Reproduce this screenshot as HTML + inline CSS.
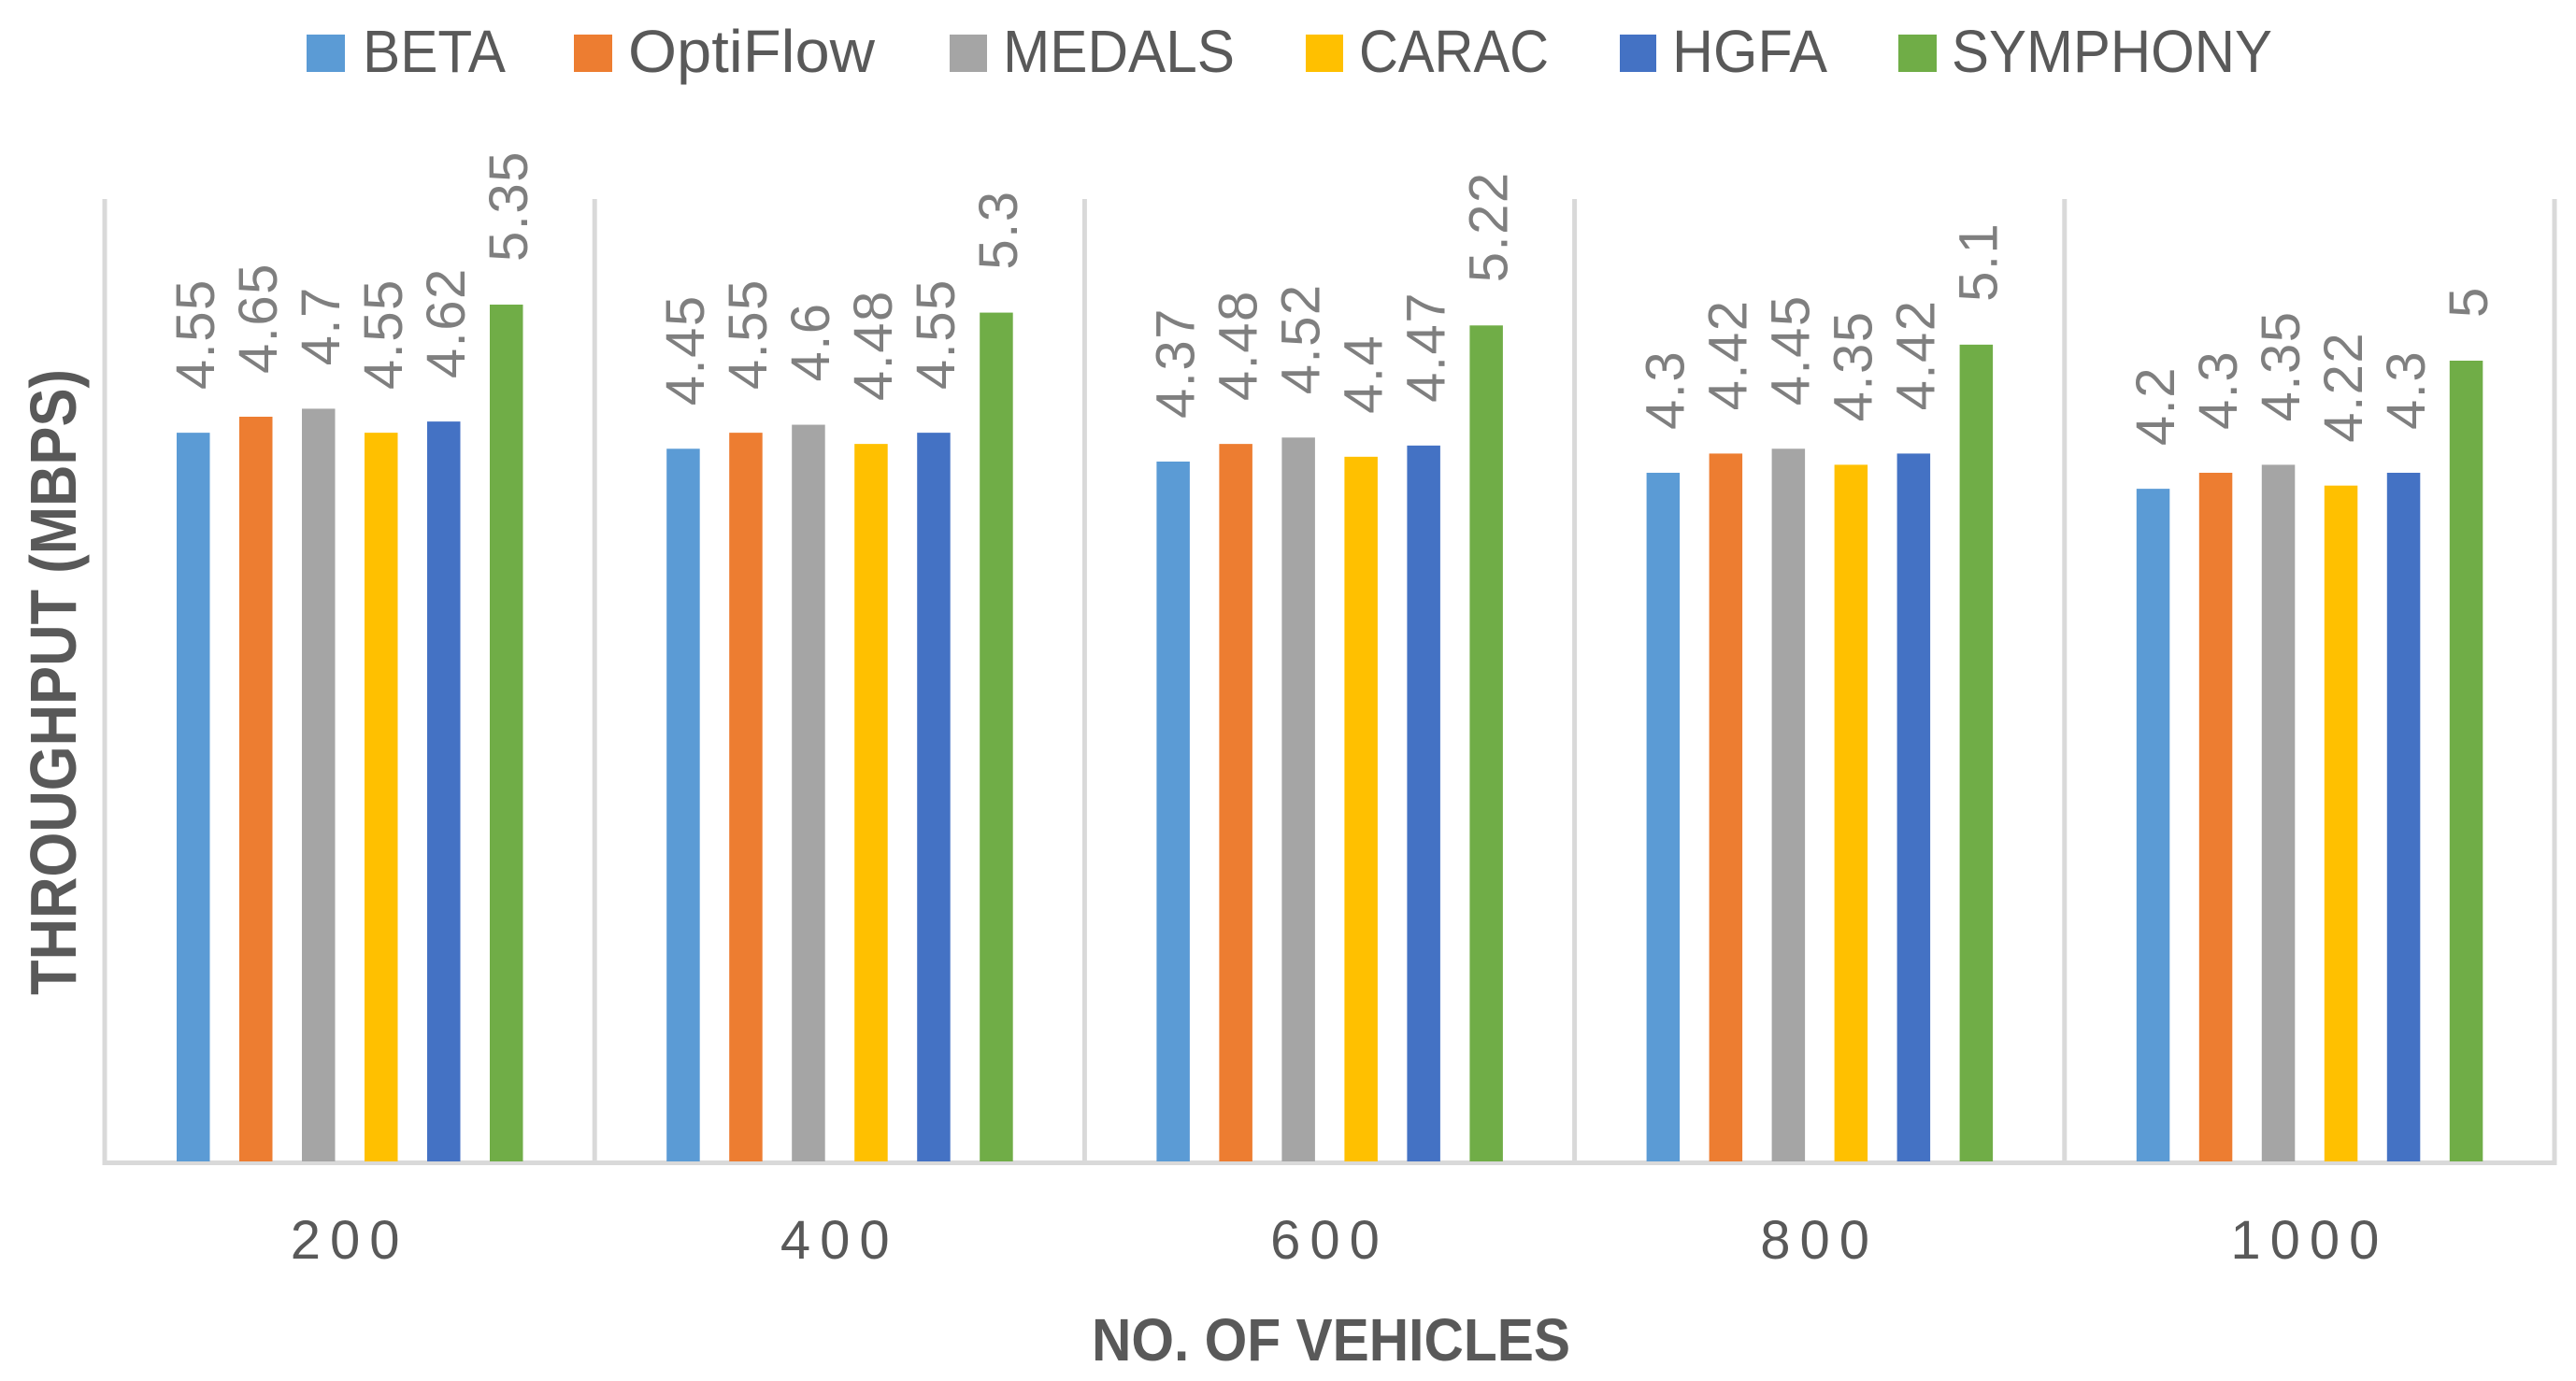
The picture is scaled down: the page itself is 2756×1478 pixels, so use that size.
<!DOCTYPE html>
<html lang="en">
<head>
<meta charset="utf-8">
<title>Throughput vs number of vehicles</title>
<style>
html,body{margin:0;padding:0;background:#fff;}
body{width:2756px;height:1478px;overflow:hidden;}
svg{display:block;font-family:"Liberation Sans",sans-serif;}
</style>
</head>
<body>
<svg id="chart" xmlns="http://www.w3.org/2000/svg" width="2756" height="1478" viewBox="0 0 2756 1478">
  <rect x="0" y="0" width="2756" height="1478" fill="#ffffff"/>
  <g id="legend" font-size="64" fill="#595959">
    <g>
      <rect x="328" y="37" width="41" height="40" fill="#5b9bd5"/>
      <text x="388" y="77" textLength="153" lengthAdjust="spacingAndGlyphs">BETA</text>
    </g>
    <g>
      <rect x="614" y="37" width="41" height="40" fill="#ed7d31"/>
      <text x="672" y="77" textLength="264" lengthAdjust="spacingAndGlyphs">OptiFlow</text>
    </g>
    <g>
      <rect x="1016" y="37" width="40" height="40" fill="#a5a5a5"/>
      <text x="1073" y="77" textLength="248" lengthAdjust="spacingAndGlyphs">MEDALS</text>
    </g>
    <g>
      <rect x="1397" y="37" width="40" height="40" fill="#ffc000"/>
      <text x="1454" y="77" textLength="203" lengthAdjust="spacingAndGlyphs">CARAC</text>
    </g>
    <g>
      <rect x="1733" y="37" width="39" height="40" fill="#4472c4"/>
      <text x="1789" y="77" textLength="166" lengthAdjust="spacingAndGlyphs">HGFA</text>
    </g>
    <g>
      <rect x="2031" y="37" width="41" height="40" fill="#70ad47"/>
      <text x="2088" y="77" textLength="343" lengthAdjust="spacingAndGlyphs">SYMPHONY</text>
    </g>
  </g>
  <g id="axes"></g>
  <g id="bars"></g>
  <g id="labels"></g>
  <g id="ticks"></g>
  <text transform="translate(81 1065) rotate(-90)" font-size="70" font-weight="bold" fill="#595959" textLength="670" lengthAdjust="spacingAndGlyphs">THROUGHPUT (MBPS)</text>
  <text x="1168" y="1456" font-size="64" font-weight="bold" fill="#595959" textLength="512" lengthAdjust="spacingAndGlyphs">NO. OF VEHICLES</text>
</svg>
<script>
var categories = ["200", "400", "600", "800", "1000"];
var seriesNames = ["BETA", "OptiFlow", "MEDALS", "CARAC", "HGFA", "SYMPHONY"];
var seriesColors = ["#5b9bd5", "#ed7d31", "#a5a5a5", "#ffc000", "#4472c4", "#70ad47"];
var betaValues = [4.55, 4.45, 4.37, 4.3, 4.2];
var optiflowValues = [4.65, 4.55, 4.48, 4.42, 4.3];
var medalsValues = [4.7, 4.6, 4.52, 4.45, 4.35];
var caracValues = [4.55, 4.48, 4.4, 4.35, 4.22];
var hgfaValues = [4.62, 4.55, 4.47, 4.42, 4.3];
var symphonyValues = [5.35, 5.3, 5.22, 5.1, 5];

var seriesValues = [betaValues, optiflowValues, medalsValues, caracValues, hgfaValues, symphonyValues];
var NS = "http://www.w3.org/2000/svg";
var axisLeft = 112, categoryStep = 524.2, axisTop = 213, baseY = 1243, pxPerUnit = 171.4;
var groupInset = 77, barPitch = 67, barWidth = 35.5;

function xCategory(i) { return axisLeft + i * categoryStep; }
function xBar(i, s) { return xCategory(i) + groupInset + s * barPitch; }
function yValue(v) { return baseY - v * pxPerUnit; }

function make(tag, attrs, parent, text) {
  var el = document.createElementNS(NS, tag);
  for (var k in attrs) { el.setAttribute(k, attrs[k]); }
  if (text !== undefined) { el.textContent = text; }
  parent.appendChild(el);
  return el;
}

var axesG = document.getElementById("axes");
var barsG = document.getElementById("bars");
var labelsG = document.getElementById("labels");
var ticksG = document.getElementById("ticks");

for (var d = 0; d <= categories.length; d++) {
  var divider = make("rect", {x: xCategory(d) - 2.5, y: axisTop, width: 5, height: 1247 - axisTop, fill: "#d9d9d9"}, axesG);
  
  
}
var baseline = make("rect", {x: axisLeft - 2.5, y: 1242, width: xCategory(categories.length) - axisLeft + 5, height: 5, fill: "#d9d9d9"}, axesG);



categories.forEach(function (cat, i) {
  var tick = make("text", {
    x: xCategory(i) + categoryStep / 2,
    y: 1347,
    "font-size": 58,
    "letter-spacing": 10,
    "text-anchor": "middle",
    fill: "#595959"
  }, ticksG, cat);
  
  

  seriesValues.forEach(function (values, s) {
    var v = values[i];
    var top = yValue(v);
    var bar = make("rect", {
      x: xBar(i, s),
      y: top,
      width: barWidth,
      height: baseY - top,
      fill: seriesColors[s]
    }, barsG);
    
    

    var lx = xBar(i, s) + 40;
    var ly = top - 46;
    var label = make("text", {
      transform: "translate(" + lx + " " + ly + ") rotate(-90)",
      "font-size": 58,
      "letter-spacing": 1.5,
      fill: "#7f7f7f"
    }, labelsG, String(v));
    
    
  });
});
</script>
</body>
</html>
